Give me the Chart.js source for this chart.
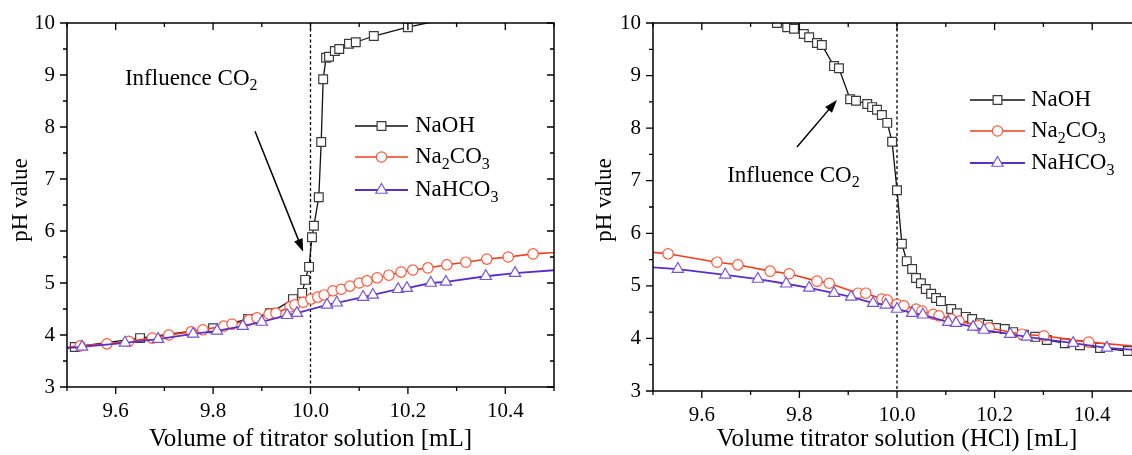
<!DOCTYPE html>
<html>
<head>
<meta charset="utf-8">
<script src="https://cdn.jsdelivr.net/npm/chart.js@4/dist/chart.umd.min.js"></script>
<style>
  html, body { margin: 0; padding: 0; background: #fff; overflow: hidden; }
  #wrap { position: relative; width: 1132px; height: 455px; overflow: hidden; }
  #left { position: absolute; left: 0; top: 0; }
  #right { position: absolute; left: 566px; top: 0; }
</style>
</head>
<body>
<div id="wrap">
  <canvas id="left" width="566" height="455"></canvas>
  <canvas id="right" width="600" height="455"></canvas>
</div>
<script>
// ---- data ----
// left panel: titration with NaOH / Na2CO3 / NaHCO3 as titrator
const naohLeftX = [9.516, 9.65, 9.80, 9.872, 9.917, 9.964, 9.983, 9.989, 9.997, 10.003, 10.007, 10.017, 10.022, 10.026, 10.032, 10.038, 10.050, 10.059, 10.079, 10.093, 10.130, 10.200, 10.30];
const naohLeftY = [3.77, 3.94, 4.13, 4.31, 4.42, 4.69, 4.81, 5.06, 5.31, 5.88, 6.10, 6.65, 7.71, 8.92, 9.33, 9.35, 9.46, 9.50, 9.60, 9.63, 9.75, 9.92, 10.12];
const carbLeftX = [9.45, 9.527, 9.582, 9.627, 9.675, 9.709, 9.755, 9.779, 9.822, 9.839, 9.874, 9.890, 9.915, 9.929, 9.958, 9.968, 9.985, 10.001, 10.015, 10.028, 10.046, 10.063, 10.081, 10.100, 10.116, 10.137, 10.161, 10.186, 10.210, 10.241, 10.280, 10.319, 10.362, 10.406, 10.457, 10.55];
const carbLeftY = [3.72, 3.79, 3.83, 3.88, 3.94, 4.00, 4.06, 4.10, 4.17, 4.21, 4.29, 4.33, 4.40, 4.42, 4.54, 4.58, 4.63, 4.69, 4.73, 4.77, 4.85, 4.88, 4.94, 5.00, 5.04, 5.10, 5.15, 5.21, 5.25, 5.29, 5.35, 5.40, 5.46, 5.50, 5.56, 5.62];
const bicarbLeftX = [9.45, 9.531, 9.619, 9.687, 9.759, 9.808, 9.861, 9.900, 9.952, 9.972, 10.034, 10.054, 10.108, 10.128, 10.180, 10.198, 10.247, 10.278, 10.360, 10.420, 10.55];
const bicarbLeftY = [3.71, 3.77, 3.85, 3.92, 4.02, 4.08, 4.17, 4.25, 4.38, 4.42, 4.58, 4.62, 4.73, 4.77, 4.88, 4.90, 5.00, 5.02, 5.13, 5.19, 5.28];

// right panel: back titration with HCl
const naohRightX = [9.65, 9.70, 9.754, 9.775, 9.789, 9.809, 9.820, 9.836, 9.846, 9.871, 9.881, 9.904, 9.916, 9.939, 9.949, 9.959, 9.969, 9.980, 9.990, 10.000, 10.010, 10.020, 10.031, 10.039, 10.049, 10.059, 10.070, 10.080, 10.090, 10.111, 10.123, 10.141, 10.154, 10.170, 10.186, 10.203, 10.221, 10.238, 10.260, 10.283, 10.307, 10.344, 10.375, 10.416, 10.473];
const naohRightY = [10.25, 10.10, 10.00, 9.92, 9.89, 9.79, 9.73, 9.62, 9.58, 9.18, 9.14, 8.55, 8.52, 8.46, 8.40, 8.35, 8.25, 8.10, 7.74, 6.82, 5.80, 5.47, 5.32, 5.15, 5.05, 4.94, 4.85, 4.77, 4.71, 4.56, 4.48, 4.41, 4.37, 4.29, 4.26, 4.20, 4.18, 4.12, 4.07, 4.03, 3.97, 3.91, 3.87, 3.82, 3.76];
const carbRightX = [9.45, 9.531, 9.631, 9.674, 9.740, 9.779, 9.836, 9.861, 9.920, 9.936, 9.969, 9.980, 10.000, 10.014, 10.039, 10.051, 10.074, 10.086, 10.111, 10.127, 10.166, 10.189, 10.256, 10.301, 10.393, 10.55];
const carbRightY = [5.68, 5.61, 5.45, 5.40, 5.28, 5.23, 5.09, 5.05, 4.86, 4.86, 4.75, 4.73, 4.65, 4.62, 4.56, 4.52, 4.46, 4.43, 4.37, 4.33, 4.24, 4.20, 4.08, 4.05, 3.93, 3.80];
const bicarbRightX = [9.45, 9.551, 9.648, 9.715, 9.773, 9.820, 9.871, 9.906, 9.951, 9.977, 10.000, 10.031, 10.053, 10.105, 10.121, 10.156, 10.178, 10.232, 10.266, 10.361, 10.430, 10.55];
const bicarbRightY = [5.38, 5.32, 5.21, 5.13, 5.04, 4.96, 4.86, 4.79, 4.67, 4.64, 4.56, 4.48, 4.45, 4.31, 4.29, 4.22, 4.16, 4.08, 4.03, 3.91, 3.82, 3.74];

// axes
const xTickLabels = ['9.6', '9.8', '10.0', '10.2', '10.4'];
const xMinorTicks = [9.5, 9.7, 9.9, 10.1, 10.3, 10.5];
const yTickLabels = ['3', '4', '5', '6', '7', '8', '9', '10'];
const yMinorTicks = [3.5, 4.5, 5.5, 6.5, 7.5, 8.5, 9.5];
const seriesNames = [[['NaOH', 0]], [['Na', 0], ['2', 1], ['CO', 0], ['3', 1]], [['NaHCO', 0], ['3', 1]]];
const annotText = [['Influence CO', 0], ['2', 1]];

const FONT = '"Liberation Serif", "Times New Roman", serif';
const styles = [
  { line: '#111111', mark: '#3a3a3a', shape: 'rect', r: 6.2, lw: 1.3 },
  { line: '#f23c1c', mark: '#ff5a3c', shape: 'circle', r: 5.2, lw: 1.6 },
  { line: '#5a2fc6', mark: '#7656d6', shape: 'triangle', r: 6.5, lw: 1.8 }
];

function pts(xs, ys) { return xs.map((x, i) => ({ x: x, y: ys[i] })); }

function richText(ctx, parts, x, y, size) {
  let cx = x;
  parts.forEach(p => {
    const sub = p[1];
    ctx.font = (sub ? Math.round(size * 0.68) : size) + 'px ' + FONT;
    ctx.fillText(p[0], cx, y + (sub ? size * 0.32 : 0));
    cx += ctx.measureText(p[0]).width;
  });
}

const deco = {
  id: 'deco',
  beforeDatasetsDraw(chart, args, o) {
    const { ctx, chartArea: a, scales: { x } } = chart;
    const px = x.getPixelForValue(10.0);
    ctx.save();
    ctx.strokeStyle = '#000';
    ctx.lineWidth = 1.3;
    ctx.setLineDash([3, 2.5]);
    ctx.beginPath();
    ctx.moveTo(px, a.top);
    ctx.lineTo(px, a.bottom);
    ctx.stroke();
    ctx.restore();
  },
  afterDatasetsDraw(chart, args, o) {
    const { ctx, chartArea: a, scales: { x, y } } = chart;
    ctx.save();
    ctx.strokeStyle = '#000';
    ctx.fillStyle = '#000';
    ctx.lineWidth = 1.5;
    ctx.strokeRect(a.left, a.top, a.right - a.left, a.bottom - a.top);

    // ticks: outward on bottom/left, inward on top/right
    ctx.lineWidth = 1.3;
    ctx.beginPath();
    const xt = xTickLabels.map(v => [parseFloat(v), 7]).concat(xMinorTicks.map(v => [v, 4]));
    xt.forEach(t => {
      const px = x.getPixelForValue(t[0]);
      ctx.moveTo(px, a.bottom); ctx.lineTo(px, a.bottom + t[1]);
      ctx.moveTo(px, a.top); ctx.lineTo(px, a.top + t[1]);
    });
    const yt = yTickLabels.map(v => [parseFloat(v), 7]).concat(yMinorTicks.map(v => [v, 4]));
    yt.forEach(t => {
      const py = y.getPixelForValue(t[0]);
      ctx.moveTo(a.left, py); ctx.lineTo(a.left - t[1], py);
      ctx.moveTo(a.right, py); ctx.lineTo(a.right - t[1], py);
    });
    ctx.stroke();

    // tick labels
    ctx.font = '21px ' + FONT;
    ctx.textAlign = 'center';
    ctx.textBaseline = 'middle';
    xTickLabels.forEach(v => ctx.fillText(v, x.getPixelForValue(parseFloat(v)), a.bottom + 24));
    ctx.textAlign = 'right';
    yTickLabels.forEach(v => ctx.fillText(v, a.left - 12, y.getPixelForValue(parseFloat(v))));

    // axis titles
    ctx.font = '25px ' + FONT;
    ctx.textAlign = 'center';
    ctx.fillText(o.xTitle, (a.left + a.right) / 2, o.xTitleY);
    ctx.save();
    ctx.translate(o.yTitleX, 200);
    ctx.rotate(-Math.PI / 2);
    ctx.font = '23px ' + FONT;
    ctx.fillText('pH value', 0, 0);
    ctx.restore();

    // annotation arrow
    const x0 = x.getPixelForValue(o.arrow[0]), y0 = y.getPixelForValue(o.arrow[1]);
    const x1 = x.getPixelForValue(o.arrow[2]), y1 = y.getPixelForValue(o.arrow[3]);
    const ang = Math.atan2(y1 - y0, x1 - x0);
    ctx.lineWidth = 1.5;
    ctx.beginPath();
    ctx.moveTo(x0, y0);
    ctx.lineTo(x1 - 8 * Math.cos(ang), y1 - 8 * Math.sin(ang));
    ctx.stroke();
    ctx.beginPath();
    ctx.moveTo(x1, y1);
    ctx.lineTo(x1 - 13 * Math.cos(ang) + 4.5 * Math.sin(ang), y1 - 13 * Math.sin(ang) - 4.5 * Math.cos(ang));
    ctx.lineTo(x1 - 13 * Math.cos(ang) - 4.5 * Math.sin(ang), y1 - 13 * Math.sin(ang) + 4.5 * Math.cos(ang));
    ctx.closePath();
    ctx.fill();
    ctx.textAlign = 'left';
    richText(ctx, annotText, x.getPixelForValue(o.annot[0]), y.getPixelForValue(o.annot[1]), 23);

    // legend
    o.legend.rows.forEach((yy, i) => {
      const s = styles[i];
      ctx.strokeStyle = s.line;
      ctx.lineWidth = s.lw;
      ctx.beginPath();
      ctx.moveTo(o.legend.x0, yy);
      ctx.lineTo(o.legend.x1, yy);
      ctx.stroke();
      ctx.fillStyle = '#fff';
      ctx.strokeStyle = s.mark;
      ctx.lineWidth = 1.2;
      Chart.helpers.drawPoint(ctx, { pointStyle: s.shape, radius: s.r, rotation: 0, borderWidth: 1.2 }, (o.legend.x0 + o.legend.x1) / 2, yy);
      ctx.fillStyle = '#000';
      richText(ctx, seriesNames[i], o.legend.tx, yy, 23);
    });
    ctx.restore();
  }
};

function makeChart(id, sets, pad, deco_opts) {
  const datasets = sets.map((d, i) => ({
    label: seriesNames[i].map(p => p[0]).join(''),
    data: d,
    showLine: true,
    tension: 0,
    borderColor: styles[i].line,
    borderWidth: styles[i].lw,
    pointStyle: styles[i].shape,
    pointRadius: styles[i].r,
    pointBorderColor: styles[i].mark,
    pointBorderWidth: 1.2,
    pointBackgroundColor: '#ffffff',
    order: 3 - i
  }));
  return new Chart(document.getElementById(id), {
    type: 'scatter',
    data: { datasets: datasets },
    options: {
      responsive: false,
      animation: false,
      layout: { padding: pad },
      scales: {
        x: { type: 'linear', min: 9.5, max: 10.5, display: false },
        y: { type: 'linear', min: 3, max: 10, display: false }
      },
      plugins: { legend: { display: false }, tooltip: { enabled: false }, deco: deco_opts }
    },
    plugins: [deco]
  });
}

makeChart('left',
  [pts(naohLeftX, naohLeftY), pts(carbLeftX, carbLeftY), pts(bicarbLeftX, bicarbLeftY)],
  { left: 67, top: 23, right: 12, bottom: 68 },
  {
    xTitle: 'Volume of titrator solution [mL]', xTitleY: 439, yTitleX: 21,
    arrow: [9.886, 7.92, 9.985, 5.60],
    annot: [9.619, 8.93],
    legend: { x0: 355, x1: 408, tx: 415, rows: [126, 157, 190] }
  });

makeChart('right',
  [pts(naohRightX, naohRightY), pts(carbRightX, carbRightY), pts(bicarbRightX, bicarbRightY)],
  { left: 87, top: 23, right: 25, bottom: 64 },
  {
    xTitle: 'Volume titrator solution (HCl) [mL]', xTitleY: 439, yTitleX: 39,
    arrow: [9.795, 7.64, 9.877, 8.535],
    annot: [9.652, 7.10],
    legend: { x0: 404, x1: 459, tx: 465, rows: [100, 131, 163] }
  });
</script>
</body>
</html>
